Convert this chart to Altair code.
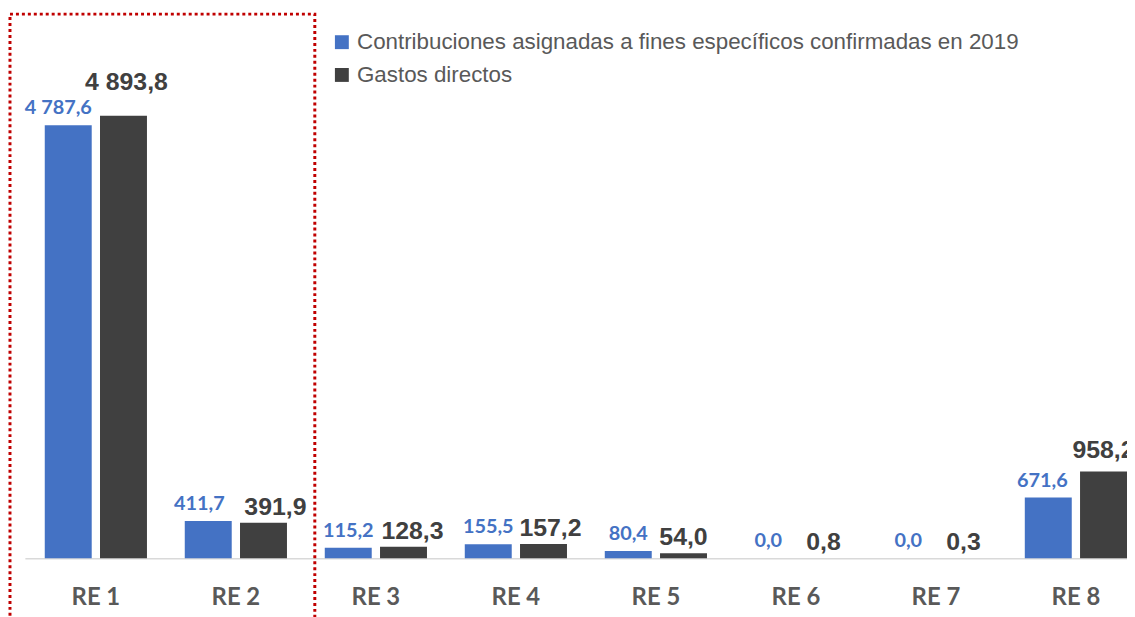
import altair as alt
import pandas as pd

categories = ["RE 1", "RE 2", "RE 3", "RE 4", "RE 5", "RE 6", "RE 7", "RE 8"]
contrib = [4787.6, 411.7, 115.2, 155.5, 80.4, 0.0, 0.0, 671.6]
gastos = [4893.8, 391.9, 128.3, 157.2, 54.0, 0.8, 0.3, 958.2]
series_names = ["Contribuciones asignadas a fines específicos confirmadas en 2019", "Gastos directos"]
colors = ["#4472C4", "#404040"]

# label styling: (series index) -> font settings; nudges of individual labels (dx, extra dy)
label_styles = {
    0: dict(font="Lato", fontWeight="bold", fontSize=20, color="#4472C4", dy=-11),
    1: dict(font="Liberation Sans", fontWeight="bold", fontSize=25, color="#404040", dy=-8),
}
label_nudges = {
    ("RE 1", 0): (-10, 0),
    ("RE 1", 1): (3, -18),
    ("RE 2", 0): (-9, 0),
    ("RE 2", 1): (12, 0),
    ("RE 3", 1): (9, 0),
    ("RE 4", 1): (7, 0),
    ("RE 8", 0): (-6, 0),
    ("RE 8", 1): (0, -6),
}


def fmt(v):
    s = f"{v:,.1f}"
    return s.replace(",", " ").replace(".", ",")


rows = []
for c, a, b in zip(categories, contrib, gastos):
    rows.append({"cat": c, "serie": series_names[0], "valor": a, "etiqueta": fmt(a), "orden": 0})
    rows.append({"cat": c, "serie": series_names[1], "valor": b, "etiqueta": fmt(b), "orden": 1})
df = pd.DataFrame(rows)

x_enc = alt.X(
    "cat:N",
    sort=categories,
    scale=alt.Scale(paddingInner=0.27, paddingOuter=0.071, align=1, round=False),
    axis=alt.Axis(
        title=None,
        labelAngle=0,
        ticks=False,
        domainColor="#D9D9D9",
        domainWidth=1.5,
        labelFont="Lato",
        labelFontWeight="bold",
        labelFontSize=24,
        labelColor="#595959",
        labelPadding=28,
    ),
)
xo_enc = alt.XOffset("serie:N", sort=series_names,
                     scale=alt.Scale(paddingInner=0.15, paddingOuter=0, round=False))
y_enc = alt.Y("valor:Q", scale=alt.Scale(domain=[0, 5490], nice=False), axis=None)

base = alt.Chart(df)

bars = base.mark_bar().encode(
    x=x_enc,
    xOffset=xo_enc,
    y=y_enc,
    color=alt.Color(
        "serie:N",
        sort=series_names,
        scale=alt.Scale(domain=series_names, range=colors),
        legend=alt.Legend(
            title=None,
            orient="none",
            legendX=308,
            legendY=-31,
            direction="vertical",
            symbolType="square",
            symbolSize=196,
            symbolStrokeWidth=0,
            labelFont="Liberation Sans",
            labelFontSize=22.5,
            labelColor="#595959",
            labelLimit=1000,
            rowPadding=10,
        ),
    ),
)

text_layers = []
for s in (0, 1):
    st = label_styles[s]
    nudged = [c for (c, k) in label_nudges if k == s]
    excl = " && ".join([f"datum.cat !== '{c}'" for c in nudged])
    expr = f"datum.orden === {s}" + (f" && {excl}" if excl else "")
    default = base.transform_filter(expr).mark_text(
        font=st["font"], fontWeight=st["fontWeight"], fontSize=st["fontSize"], color=st["color"],
        baseline="alphabetic", dy=st["dy"],
    ).encode(x=x_enc, xOffset=xo_enc, y=y_enc, text="etiqueta:N")
    text_layers.append(default)
    for c in nudged:
        ndx, ndy = label_nudges[(c, s)]
        lyr = base.transform_filter(
            f"datum.orden === {s} && datum.cat === '{c}'"
        ).mark_text(
            font=st["font"], fontWeight=st["fontWeight"], fontSize=st["fontSize"], color=st["color"],
            baseline="alphabetic", dy=st["dy"] + ndy, dx=ndx,
        ).encode(x=x_enc, xOffset=xo_enc, y=y_enc, text="etiqueta:N")
        text_layers.append(lyr)

frame = alt.Chart(pd.DataFrame({"k": [0]})).mark_rect(
    fill="transparent", stroke="#C00000", strokeWidth=3, strokeDash=[3, 3]
).encode(x=alt.value(-15), x2=alt.value(292), y=alt.value(-48), y2=alt.value(620))

chart = (
    alt.layer(frame, bars, *text_layers)
    .properties(
        width=1110,
        height=500,
        padding={"left": 17, "top": 52, "right": 0, "bottom": 57},
        autosize=alt.AutoSizeParams(type="none"),
    )
    .configure_view(stroke=None)
)

chart.save("out.html", embed_options={"renderer": "svg", "actions": False})
